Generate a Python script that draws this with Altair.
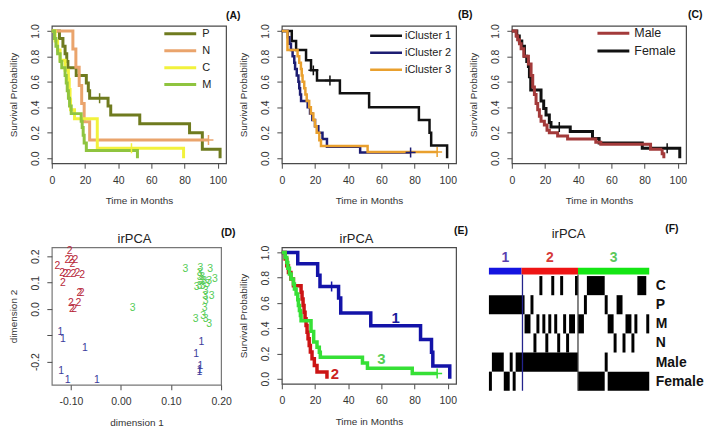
import math
import altair as alt
import pandas as pd

FONT = "Liberation Sans"
TXT = "#333333"
FRAME = "#4a4a4a"
W, H = 175, 138

# ---------------- (A) survival by subtype ----------------
A_groups = ["P", "N", "C", "M"]
A_colors = ["#6f7b1f", "#eaa46c", "#f2f23c", "#8fc43f"]
A_P_t = [0, 4.6, 6.7, 8.0, 9.0, 9.7, 14.7, 20.8, 22.0, 22.8, 33.9, 35.5, 53.0, 83.0, 90.7, 101.4]
A_P_s = [1, .94, .88, .82, .76, .71, .65, .59, .53, .47, .41, .34, .27, .20, .07, 0]
A_N_t = [0, 12.7, 14.5, 16.5, 18.0, 19.5, 22.8, 94.4]
A_N_s = [1, .857, .714, .571, .429, .286, .143, .143]
A_C_t = [0, 2.0, 3.5, 5.0, 8.0, 10.0, 10.5, 11.0, 11.3, 13.7, 27.4, 79.4]
A_C_s = [1, .92, .85, .77, .69, .62, .54, .46, .38, .31, .077, 0]
A_M_t = [0, 1.6, 2.5, 3.5, 5.0, 6.0, 8.0, 8.7, 9.3, 10.0, 10.7, 11.7, 17.7, 18.3, 18.9, 19.5, 20.8, 51.6]
A_M_s = [1, .94, .88, .82, .76, .71, .65, .59, .53, .47, .41, .35, .29, .24, .18, .12, .06, 0]
A_cens_g = ["P", "N", "C"]
A_cens_t = [28.8, 94.4, 48.0]
A_cens_s = [.47, .143, .077]

# ---------------- (B) survival by iCluster ----------------
B_groups = ["iCluster 1", "iCluster 2", "iCluster 3"]
B_colors = ["#111111", "#1d1d72", "#e9a02e"]
B_1_t = [0, 6.0, 8.6, 14.6, 17.6, 21.2, 35.0, 52.6, 82.6, 89.0, 90.0, 99.6]
B_1_s = [1, .92, .85, .77, .69, .61, .51, .40, .30, .20, .10, 0]
B_2_t = [0, 3.6, 4.6, 5.5, 6.5, 7.5, 8.0, 9.0, 10.0, 10.5, 11.0, 11.6, 15.6, 17.0, 18.4, 20.0, 22.0, 24.5, 27.2, 47.2, 77.6]
B_2_s = [1, .95, .90, .85, .80, .75, .70, .65, .60, .55, .50, .45, .40, .35, .30, .25, .20, .15, .09, .045, .045]
B_3_t = [0, 3.4, 9.5, 10.5, 11.5, 12.0, 12.5, 13.5, 14.2, 15.0, 16.5, 17.5, 19.0, 20.0, 21.0, 22.6, 23.6, 51.7, 93.6]
B_3_s = [1, .85, .80, .75, .70, .65, .60, .55, .50, .45, .40, .35, .30, .25, .20, .14, .095, .048, .048]
B_cens_g = ["iCluster 1", "iCluster 1", "iCluster 2", "iCluster 3"]
B_cens_t = [19.0, 29.0, 77.6, 93.6]
B_cens_s = [.69, .61, .045, .048]

# ---------------- (C) survival by sex ----------------
C_groups = ["Male", "Female"]
C_colors = ["#a33a3a", "#111111"]
C_M_t = [0, 2.6, 3.5, 4.6, 5.6, 7.2, 10.0, 11.6, 12.6, 13.6, 14.6, 15.6, 16.6, 17.6, 19.6, 21.2, 22.6, 27.6, 33.6, 50.6, 53.6, 83.6, 90.6, 91.6]
C_M_s = [1, .96, .93, .90, .86, .80, .74, .65, .56, .50, .43, .38, .33, .29, .26, .22, .20, .175, .15, .125, .11, .07, .035, 0]
C_F_t = [0, 3.0, 4.5, 6.0, 7.6, 9.0, 10.0, 10.6, 11.4, 17.6, 19.2, 20.6, 22.6, 23.6, 35.2, 48.6, 52.6, 78.6, 101.2]
C_F_s = [1, .96, .92, .88, .80, .76, .72, .64, .535, .45, .39, .34, .28, .245, .21, .155, .12, .078, 0]
C_cens_g = ["Female", "Female"]
C_cens_t = [28.6, 93.6]
C_cens_s = [.245, .078]

# ---------------- (D) irPCA scatter ----------------
D_colors = ["#3b3b9c", "#b8283a", "#55cc55"]
D1_x = [-0.121, -0.1156, -0.072, -0.1195, -0.1064, -0.048, 0.1606, 0.150, 0.1586, 0.157, 0.1567]
D1_y = [-0.087, -0.115, -0.150, -0.237, -0.268, -0.268, -0.127, -0.171, -0.215, -0.230, -0.240]
D2_x = [-0.1025, -0.107, -0.0994, -0.0909, -0.127, -0.1175, -0.111, -0.1045, -0.0947, -0.087, -0.0772,
        -0.1156, -0.083, -0.0786, -0.100, -0.085, -0.098, -0.0936, -0.097]
D2_y = [0.219, 0.187, 0.187, 0.187, 0.165, 0.135, 0.133, 0.131, 0.131, 0.135, 0.128,
        0.099, 0.059, 0.059, 0.024, 0.024, -0.001, -0.001, 0.172]
D3_x = [0.129, 0.1586, 0.178, 0.157, 0.157, 0.160, 0.166, 0.176, 0.1875, 0.163, 0.157, 0.172,
        0.181, 0.169, 0.168, 0.169, 0.167, 0.149, 0.164, 0.169, 0.176, 0.0234, 0.162, 0.151]
D3_y = [0.152, 0.157, 0.151, 0.138, 0.121, 0.106, 0.106, 0.106, 0.112, 0.088, 0.088, 0.094,
        0.050, 0.069, 0.049, 0.031, 0.003, -0.037, -0.028, -0.038, -0.058, 0.005, 0.121, 0.082]

# ---------------- (E) irPCA survival ----------------
E_groups = ["1", "2", "3"]
E_colors = ["#1313a8", "#cc1414", "#36e036"]
E_label_colors = ["#1a1a9c", "#cc2222", "#55d055"]
E_1_t = [0, 9.6, 21.6, 23.0, 34.2, 35.5, 53.6, 83.6, 90.2, 91.0, 101.2]
E_1_s = [1, .91, .82, .73, .64, .52, .42, .31, .21, .10, 0]
E_2_t = [0, 2.0, 3.0, 4.0, 5.5, 7.0, 11.6, 12.2, 12.8, 13.4, 14.0, 14.6, 15.2, 15.8, 16.5, 17.2, 18.2, 19.6, 21.2, 27.2]
E_2_s = [1, .947, .895, .842, .789, .737, .684, .632, .579, .526, .474, .421, .368, .316, .263, .211, .158, .105, .053, 0]
E_3_t = [0, 2.0, 3.0, 3.6, 4.6, 5.6, 7.0, 7.6, 8.6, 9.6, 10.0, 10.6, 11.2, 11.6, 17.6, 19.2, 21.2, 22.6, 23.2, 48.6, 51.6, 78.6, 93.6]
E_3_s = [1, .96, .92, .875, .83, .79, .75, .71, .67, .625, .58, .54, .50, .46, .375, .29, .25, .21, .17, .125, .083, .042, .042]
E_cens_g = ["1", "3"]
E_cens_t = [30.0, 93.6]
E_cens_s = [.73, .042]
E_lab_g = ["1", "3", "2"]
E_lab_t = [68.6, 60.0, 32.0]
E_lab_s = [0.48, 0.16, 0.034]

# ---------------- (F) irPCA heatmap ----------------
F_clusters = ["1", "2", "3"]
F_sizes = [11, 19, 24]
F_bar_colors = ["#1414e0", "#ee1414", "#14e614"]
F_num_colors = ["#5a3fb0", "#d63a3a", "#5cc85c"]
F_rows = ["C", "P", "M", "N", "Male", "Female"]
F_subtype = (["P"] * 11
             + ["P", "M", "M", "P", "N", "M", "C", "M", "N", "M", "C", "M", "N", "C", "M", "N", "M", "M", "C"]
             + ["M", "M", "P", "C", "C", "C", "C", "C", "C", "P", "M", "M", "N", "P", "P", "N", "M", "M",
                "N", "M", "C", "C", "C", "M"])
F_sex = (["Female"] + ["Male"] * 4 + ["Female"] * 2 + ["Male"] + ["Female"] + ["Male"] * 21
         + ["Female"] * 9 + ["Male"] + ["Female"] * 14)
F_lines = [11.3, 30.0]
F_line_colors = ["#23238c", "#444444"]

# ---------------- helpers ----------------
XAX = dict(tickSize=5, tickColor=FRAME, tickWidth=1, domain=False, grid=False,
           labelFontSize=10.5, labelColor=TXT, labelPadding=7, labelFlush=False,
           labelFont=FONT, titleFont=FONT, titleFontSize=10, titleFontWeight="normal",
           titleColor=TXT, titlePadding=10)
YAX = dict(XAX, labelAngle=270, labelAlign="center", labelBaseline="bottom",
           labelPadding=6, titlePadding=12)


def curves_df(names, ts_list, ss_list):
    rows = []
    for n, ts, ss in zip(names, ts_list, ss_list):
        for i, (t, s) in enumerate(zip(ts, ss)):
            rows.append({"g": n, "t": t, "s": s, "i": i})
    return pd.DataFrame(rows)


def km_legend(line_start, label_start, first_y, spacing, font_size, sw, values=None):
    size = max(math.ceil(8 + sw), font_size)
    lx = line_start + 16 - size / 2
    kw = dict(title=None, orient="none", direction="vertical",
              legendX=lx, legendY=first_y - size / 2,
              symbolType="M-4,0H4", symbolSize=64, symbolStrokeWidth=sw,
              symbolOffset=0, labelOffset=label_start - lx - size,
              rowPadding=spacing - size, padding=0,
              labelFontSize=font_size, labelFont=FONT, labelColor="#222")
    if values is not None:
        kw["values"] = values
    return alt.Legend(**kw)


def text_layer(txt, tx, ty, size=10.5, weight="bold", align="left", color="#111"):
    return alt.Chart(pd.DataFrame({"txt": [txt]})).mark_text(
        align=align, baseline="middle", font=FONT, fontSize=size, fontWeight=weight, color=color
    ).encode(text="txt:N", x=alt.value(tx), y=alt.value(ty))


def pca_title(tx, ty):
    return text_layer("irPCA", tx, ty, size=13, weight="normal", align="center", color="#222")


def km_panel(df, cens, groups, colors, sw, legend, tag, tx, ty, width=W, height=H,
             labels=None, label_colors=None, extra=()):
    x = alt.X("t:Q", scale=alt.Scale(domain=[0, 105], nice=False, zero=False),
              axis=alt.Axis(values=[0, 20, 40, 60, 80, 100], title="Time in Months", **XAX))
    y = alt.Y("s:Q", scale=alt.Scale(domain=[-0.04, 1.04], nice=False, zero=False),
              axis=alt.Axis(values=[0, 0.2, 0.4, 0.6, 0.8, 1.0], format=".1f",
                            title="Survival Probability", **YAX))
    cs = alt.Scale(domain=groups, range=colors)
    lines = alt.Chart(df).mark_line(interpolate="step-after", strokeWidth=sw).encode(
        x=x, y=y, color=alt.Color("g:N", scale=cs, legend=legend), order="i:Q")
    marks = alt.Chart(cens).mark_point(shape="M-1,0H1M0,-1V1", size=100, filled=False,
                                       strokeWidth=1.5, opacity=1).encode(
        x=x, y=y, color=alt.Color("g:N", scale=cs, legend=None))
    layers = [lines, marks]
    if labels is not None:
        layers.append(alt.Chart(labels).mark_text(font=FONT, fontSize=15, fontWeight="bold").encode(
            x=x, y=y, text="g:N",
            fill=alt.Fill("g:N", scale=alt.Scale(domain=groups, range=label_colors), legend=None)))
    layers.append(text_layer(tag, tx, ty))
    layers.extend(extra)
    return alt.layer(*layers).properties(width=width, height=height,
                                         view=alt.ViewBackground(stroke=FRAME, strokeWidth=1.2))


def cens_df(g, t, s):
    return pd.DataFrame({"g": g, "t": t, "s": s})


# ---------------- panels ----------------
A = km_panel(curves_df(A_groups, [A_P_t, A_N_t, A_C_t, A_M_t], [A_P_s, A_N_s, A_C_s, A_M_s]),
             cens_df(A_cens_g, A_cens_t, A_cens_s), A_groups, A_colors, 3,
             km_legend(113, 151, 8, 15.0, 11, 3), "(A)", W, -10)

B = km_panel(curves_df(B_groups, [B_1_t, B_2_t, B_3_t], [B_1_s, B_2_s, B_3_s]),
             cens_df(B_cens_g, B_cens_t, B_cens_s), B_groups, B_colors, 2.5,
             km_legend(88.7, 123.7, 10, 16.0, 11, 2.5), "(B)", W + 2, -11)

# Female drawn first so Male sits on top, legend keeps Male first
C = km_panel(curves_df(["Female", "Male"], [C_F_t, C_M_t], [C_F_s, C_M_s]),
             cens_df(C_cens_g, C_cens_t, C_cens_s), C_groups, C_colors, 3,
             km_legend(86, 123, 7.5, 17.3, 12.5, 3, values=C_groups), "(C)", W + 2, -11)

E = km_panel(curves_df(E_groups, [E_1_t, E_2_t, E_3_t], [E_1_s, E_2_s, E_3_s]),
             cens_df(E_cens_g, E_cens_t, E_cens_s), E_groups, E_colors, 3.5, None,
             "(E)", W - 2, -16.5, height=137,
             labels=pd.DataFrame({"g": E_lab_g, "t": E_lab_t, "s": E_lab_s}),
             label_colors=E_label_colors,
             extra=[pca_title(75, -8.5)])

# D
D_df = pd.DataFrame({
    "x": D1_x + D2_x + D3_x,
    "y": D1_y + D2_y + D3_y,
    "c": ["1"] * len(D1_x) + ["2"] * len(D2_x) + ["3"] * len(D3_x),
})
DW = 170
xD = alt.X("x:Q", scale=alt.Scale(domain=[-0.138, 0.2], nice=False, zero=False),
           axis=alt.Axis(values=[-0.1, 0, 0.1, 0.2], title="dimension 1",
                         labelExpr="(datum.value < 0 ? '-' : '') + format(abs(datum.value), '.2f')", **XAX))
yD = alt.Y("y:Q", scale=alt.Scale(domain=[-0.288, 0.234], nice=False, zero=False),
           axis=alt.Axis(values=[-0.2, -0.1, 0, 0.1, 0.2], title="dimension 2",
                         labelExpr="datum.value == -0.1 ? '' : (datum.value < 0 ? '-' : '') + format(abs(datum.value), '.1f')",
                         **YAX))
D_pts = alt.Chart(D_df).mark_text(font=FONT, fontSize=10.5).encode(
    x=xD, y=yD, text="c:N",
    color=alt.Color("c:N", scale=alt.Scale(domain=["1", "2", "3"], range=D_colors), legend=None))
D = alt.layer(D_pts, text_layer("(D)", DW, -14.5), pca_title(83, -8.5)).properties(
    width=DW, height=H, view=alt.ViewBackground(stroke="#777777", strokeWidth=1.2))

# F
N = len(F_subtype)
cells = []
for r, name in enumerate(F_rows):
    flags = [(F_subtype[j] == name) if r < 4 else (F_sex[j] == name) for j in range(N)]
    j = 0
    while j < N:
        if flags[j]:
            k = j
            while k < N and flags[k]:
                k += 1
            cells.append({"x0": j, "x1": k, "y0": r, "y1": r + 1})
            j = k
        else:
            j += 1
cells_df = pd.DataFrame(cells)
starts = [sum(F_sizes[:i]) for i in range(len(F_sizes))]
bar_df = pd.DataFrame({"cl": F_clusters, "x0": starts,
                       "x1": [s + n for s, n in zip(starts, F_sizes)],
                       "y0": -0.43, "y1": -0.08})
num_df = pd.DataFrame({"cl": F_clusters, "xc": [s + n / 2 for s, n in zip(starts, F_sizes)], "yc": -0.95})
rule_df = pd.DataFrame({"b": F_lines, "k": ["a", "b"], "y0": -0.08, "y1": 6})

FW, FH = 138, 144
xF = alt.Scale(domain=[0, N], range=[-23, FW], nice=False, zero=False)
yF = alt.Scale(domain=[-1.5, 6], reverse=True, nice=False, zero=False)
lab_expr = "[" + ",".join("'%s'" % r for r in F_rows) + "][floor(datum.value)]"
FYAX = alt.Axis(orient="right", values=[i + 0.5 for i in range(len(F_rows))], labelExpr=lab_expr,
                title=None, domain=False, ticks=False, grid=False, labelPadding=6, labelFontSize=14,
                labelFontWeight="bold", labelColor="#111", labelFont=FONT, labelFlush=False,
                labelOverlap=False)


def fx(f):
    return alt.X(f, type="quantitative", scale=xF, axis=None)


def fy(f):
    return alt.Y(f, type="quantitative", scale=yF, axis=FYAX)


F_bar = alt.Chart(bar_df).mark_rect().encode(
    x=fx("x0"), x2="x1", y=fy("y0"), y2="y1",
    fill=alt.Fill("cl:N", scale=alt.Scale(domain=F_clusters, range=F_bar_colors), legend=None))
F_cells = alt.Chart(cells_df).mark_rect(color="#000000").encode(
    x=fx("x0"), x2="x1", y=fy("y0"), y2="y1")
F_rules = alt.Chart(rule_df).mark_rule(strokeWidth=1.3).encode(
    x=fx("b"), y=fy("y0"), y2="y1",
    stroke=alt.Stroke("k:N", scale=alt.Scale(domain=["a", "b"], range=F_line_colors), legend=None))
F_nums = alt.Chart(num_df).mark_text(font=FONT, fontSize=14, fontWeight="bold", baseline="middle").encode(
    x=fx("xc"), y=fy("yc"), text="cl:N",
    color=alt.Color("cl:N", scale=alt.Scale(domain=F_clusters, range=F_num_colors), legend=None))
F = alt.layer(F_bar, F_cells, F_rules, F_nums, text_layer("(F)", FW + 16, -18.5),
              pca_title(57, -13.5)).properties(
    width=FW, height=FH, view=alt.ViewBackground(strokeWidth=0, stroke="transparent"))

chart = alt.concat(A, B, C, D, E, F, columns=3, spacing={"row": 84.5, "column": 56},
                   bounds="flush").resolve_scale(
    color="independent", fill="independent", stroke="independent"
).resolve_legend(color="independent").properties(
    padding={"left": 0, "top": 0, "right": 0, "bottom": 0}
).configure(font=FONT)

chart.save("out.html", embed_options={"renderer": "svg", "actions": False})
